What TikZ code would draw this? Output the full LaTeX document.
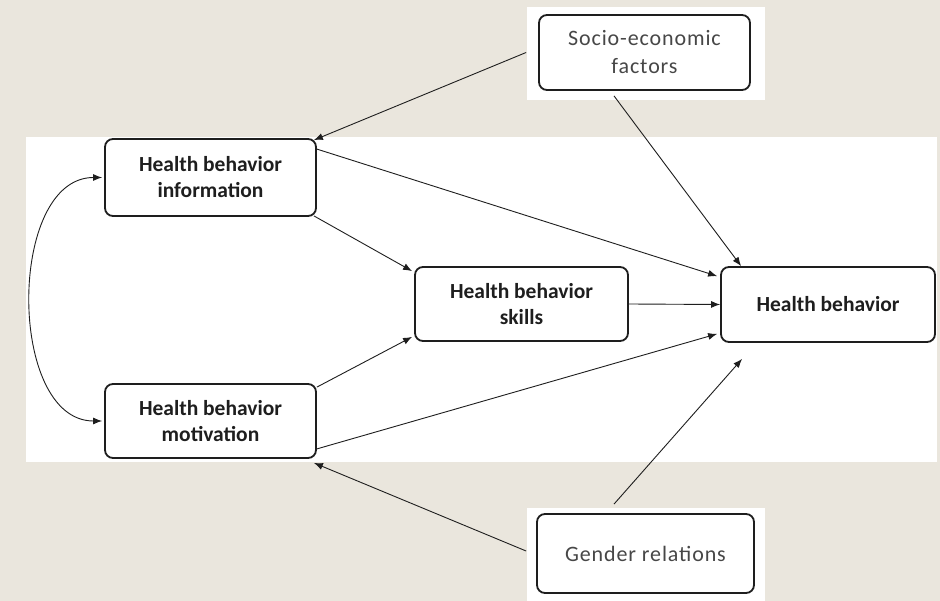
\documentclass[tikz,border=0pt]{standalone}
\usepackage{fontspec}
\setmainfont{Carlito}
\usetikzlibrary{arrows.meta,calc}
\definecolor{bg}{RGB}{234,230,221}
\definecolor{ink}{RGB}{30,30,30}
\begin{document}
\begin{tikzpicture}[x=1pt,y=-1pt,
  box/.style={draw=ink, line width=1.8pt, rounded corners=8pt, fill=white, align=center,
    inner sep=0pt, font=\fontsize{21.5}{26}\selectfont\bfseries, text=ink},
  sidebox/.style={box, font=\fontsize{22}{28}\selectfont\addfontfeatures{LetterSpace=4}, text=black!72},
  arr/.style={-{Latex[length=9pt,width=7pt]}, line width=0.9pt, draw=ink},
  darr/.style={{Latex[length=9pt,width=7pt]}-{Latex[length=9pt,width=7pt]}, line width=0.9pt, draw=ink}]
\useasboundingbox (0,0) rectangle (940,601);
\fill[bg] (0,0) rectangle (940,601);
\fill[white] (26,137) rectangle (937,462);
\fill[white] (527,7) rectangle (765,100);
\fill[white] (527,508) rectangle (765,601);

\node[box, minimum width=211pt, minimum height=77pt] (info) at (210.5,177.5) {Health behavior\\information};
\node[box, minimum width=211pt, minimum height=74pt] (mot) at (210.5,421) {Health behavior\\motivation};
\node[box, minimum width=213pt, minimum height=74pt] (skills) at (521.5,304) {Health behavior\\skills};
\node[box, minimum width=214pt, minimum height=75pt] (hb) at (828,304.5) {Health behavior};
\node[sidebox, minimum width=211pt, minimum height=75pt] (socio) at (644.5,52.5) {Socio-economic\\factors};
\node[sidebox, minimum width=217pt, minimum height=79pt] (gender) at (645.5,553.5) {Gender relations};

\draw[arr] ($(socio.west)+(-12,0)$) -- ($(info.north east)+(-3,2)$);
\draw[arr] ($(socio.south)+(-30.5,5)$) -- ($(hb.north west)+(21,0)$);
\draw[arr] ($(info.north east)+(0,11)$) -- ($(hb.north west)+(-3,10)$);
\draw[arr] ($(info.south east)+(-3,-1)$) -- ($(skills.north west)+(-2,5)$);
\draw[arr] (skills.east) -- (hb.west);
\draw[arr] ($(mot.north east)+(0,4)$) -- ($(skills.south west)+(-2,-5)$);
\draw[arr] ($(mot.south east)+(0,-10)$) -- ($(hb.south west)+(-3,-9)$);
\draw[arr] ($(gender.north)+(-31.5,-9)$) -- ($(hb.south west)+(22,16)$);
\draw[arr] ($(gender.west)+(-10,-2.5)$) -- ($(mot.south east)+(-3,4)$);
\draw[darr] ($(info.west)+(-2,0)$) to[out=180,in=180] ($(mot.west)+(-2,0)$);
\end{tikzpicture}
\end{document}
